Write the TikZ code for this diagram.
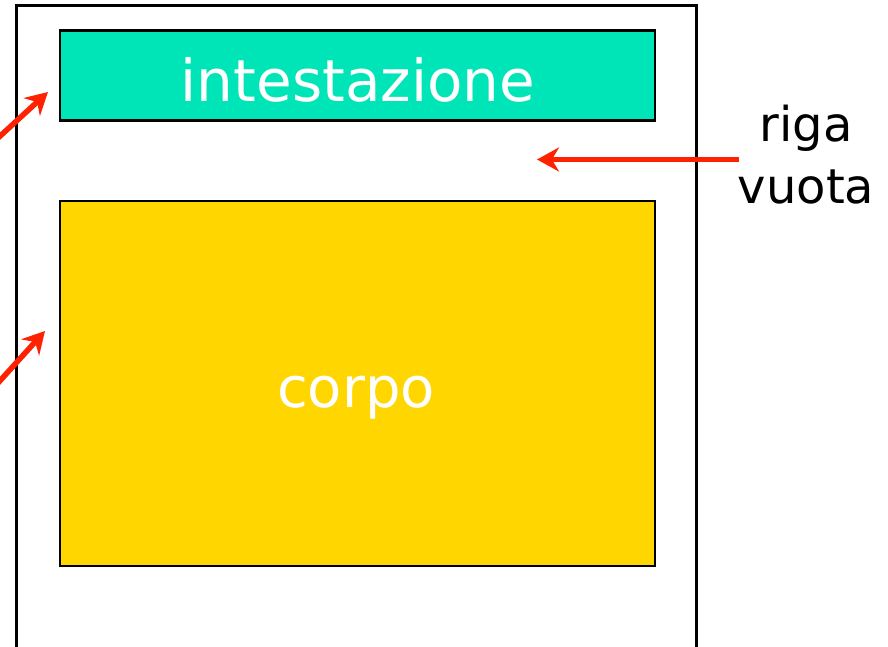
\documentclass[tikz,border=0pt]{standalone}
\usepackage{fontspec}
\setmainfont{DejaVu Sans}
\usetikzlibrary{arrows.meta}
\definecolor{headteal}{HTML}{00E5B8}
\definecolor{bodygold}{HTML}{FFD600}
\definecolor{arrred}{HTML}{FF2200}
\tikzset{
  box/.style={draw=black, line width=2.4pt, inner sep=0pt, anchor=north west},
  boxtext/.style={text=white, inner sep=0pt},
  ptr/.style={draw=arrred, line width=5.5pt, -{Stealth[length=22pt,width=24pt]}},
}
\begin{document}
\begin{tikzpicture}[x=1pt,y=-1pt]
\useasboundingbox (0,0) rectangle (888,647);
\fill[white] (0,0) rectangle (888,647);
% outer page (bottom runs off the picture)
\coordinate (obl) at (16.5,650);
\coordinate (otl) at (16.5,5.5);
\coordinate (otr) at (696,5.5);
\coordinate (obr) at (696,650);
\draw[line width=3pt] (obl) -- (otl) -- (otr) -- (obr);
% header
\node[box, fill=headteal, minimum width=595pt, minimum height=90pt] (head) at (59,29.5) {};
\node[boxtext, font=\fontsize{58}{60}\selectfont] (headtxt) at (358,80) {intestazione};
% body
\node[box, fill=bodygold, minimum width=595pt, minimum height=365pt] (body) at (59,200) {};
\node[boxtext, font=\fontsize{56}{58}\selectfont] (bodytxt) at (356,398) {corpo};
% label
\node[align=center, font=\fontsize{48}{62}\selectfont, inner sep=0pt] (lbl) at (806,155) {riga\\vuota};
% arrows
\coordinate (a1s) at (-2,138);
\coordinate (a1e) at (48,92);
\coordinate (a2s) at (-2,383);
\coordinate (a2e) at (45,331);
\coordinate (a3s) at (739,159.5);
\coordinate (a3e) at (537,159.5);
\draw[ptr] (a1s) -- (a1e);
\draw[ptr] (a2s) -- (a2e);
\draw[ptr] (a3s) -- (a3e);
\end{tikzpicture}
\end{document}
